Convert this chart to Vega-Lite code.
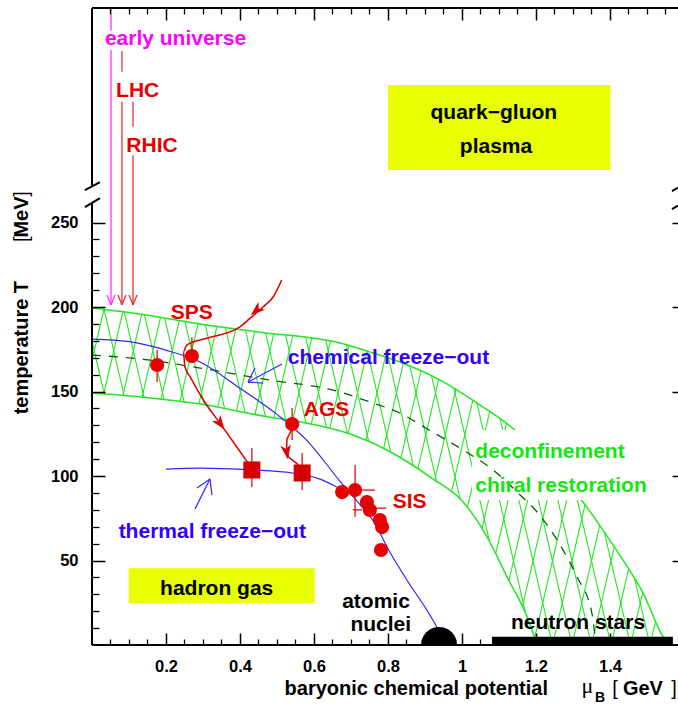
{
"$schema":"https://vega.github.io/schema/vega-lite/v6.json",
"width":586,"height":637,
"autosize":{"type":"none"},
"padding":{"left":92,"top":8,"right":0,"bottom":69},
"background":"white",
"config":{"view":{"stroke":null}},
"datasets":{
"origin":[{"x":0,"y":0}],
"hatch":[{"x":-0.1783,"xa":0.0442,"xb":-0.4008,"lo":0,"hi":210},{"x":-0.1256,"xa":0.0969,"xb":-0.3481,"lo":0,"hi":210},{"x":-0.0729,"xa":0.1496,"xb":-0.2954,"lo":0,"hi":210},{"x":-0.0202,"xa":0.2023,"xb":-0.2427,"lo":0,"hi":210},{"x":0.0325,"xa":0.255,"xb":-0.19,"lo":0,"hi":210},{"x":0.0852,"xa":0.3077,"xb":-0.1373,"lo":0,"hi":210},{"x":0.1379,"xa":0.3604,"xb":-0.0846,"lo":0,"hi":210},{"x":0.1906,"xa":0.4131,"xb":-0.0319,"lo":0,"hi":210},{"x":0.2433,"xa":0.4658,"xb":0.0208,"lo":0,"hi":210},{"x":0.296,"xa":0.5185,"xb":0.0735,"lo":0,"hi":210},{"x":0.3487,"xa":0.5712,"xb":0.1262,"lo":0,"hi":210},{"x":0.4014,"xa":0.6239,"xb":0.1789,"lo":0,"hi":210},{"x":0.4541,"xa":0.6766,"xb":0.2316,"lo":0,"hi":210},{"x":0.5068,"xa":0.7293,"xb":0.2843,"lo":0,"hi":210},{"x":0.5595,"xa":0.782,"xb":0.337,"lo":0,"hi":210},{"x":0.6122,"xa":0.8347,"xb":0.3897,"lo":0,"hi":210},{"x":0.6649,"xa":0.8874,"xb":0.4424,"lo":0,"hi":210},{"x":0.7176,"xa":0.9401,"xb":0.4951,"lo":0,"hi":210},{"x":0.7703,"xa":0.9928,"xb":0.5478,"lo":0,"hi":210},{"x":0.823,"xa":1.0455,"xb":0.6005,"lo":0,"hi":210},{"x":0.8757,"xa":1.0982,"xb":0.6532,"lo":0,"hi":210},{"x":0.9284,"xa":1.1509,"xb":0.7059,"lo":0,"hi":210},{"x":0.9811,"xa":1.2036,"xb":0.7586,"lo":0,"hi":210},{"x":1.0338,"xa":1.2563,"xb":0.8113,"lo":0,"hi":210},{"x":1.0865,"xa":1.309,"xb":0.864,"lo":0,"hi":210},{"x":1.1392,"xa":1.3617,"xb":0.9167,"lo":0,"hi":210},{"x":1.1919,"xa":1.4144,"xb":0.9694,"lo":0,"hi":210},{"x":1.2446,"xa":1.4671,"xb":1.0221,"lo":0,"hi":210},{"x":1.2973,"xa":1.5198,"xb":1.0748,"lo":0,"hi":210},{"x":1.35,"xa":1.5725,"xb":1.1275,"lo":0,"hi":210},{"x":1.4027,"xa":1.6252,"xb":1.1802,"lo":0,"hi":210},{"x":1.4554,"xa":1.6779,"xb":1.2329,"lo":0,"hi":210},{"x":1.5081,"xa":1.7306,"xb":1.2856,"lo":0,"hi":210},{"x":1.5608,"xa":1.7833,"xb":1.3383,"lo":0,"hi":210}],
"upper":[{"x":0,"y":199.4,"top":215},{"x":0.146,"y":195.3,"top":215},{"x":0.292,"y":190,"top":215},{"x":0.45,"y":185.2,"top":215},{"x":0.67,"y":178.7,"top":215},{"x":0.75,"y":173.5,"top":215},{"x":0.832,"y":167.5,"top":215},{"x":0.941,"y":156.8,"top":215},{"x":1.049,"y":142,"top":215},{"x":1.143,"y":127.2,"top":215},{"x":1.238,"y":105,"top":215},{"x":1.327,"y":84.6,"top":215},{"x":1.381,"y":68,"top":215},{"x":1.481,"y":34.3,"top":215},{"x":1.568,"y":0,"top":215},{"x":1.5838,"y":0,"top":215}],
"lower":[{"x":0,"y":149.1,"bot":0},{"x":0.146,"y":146.5,"bot":0},{"x":0.292,"y":142.6,"bot":0},{"x":0.473,"y":135.1,"bot":0},{"x":0.562,"y":132.1,"bot":0},{"x":0.679,"y":126.2,"bot":0},{"x":0.797,"y":115.4,"bot":0},{"x":0.914,"y":99.4,"bot":0},{"x":1.003,"y":84.6,"bot":0},{"x":1.068,"y":63.9,"bot":0},{"x":1.122,"y":40.2,"bot":0},{"x":1.176,"y":16.6,"bot":0},{"x":1.203,"y":0,"bot":0}],
"dashed":[{"x":0,"y":171.6},{"x":0.157,"y":168.6},{"x":0.292,"y":163.9},{"x":0.481,"y":156.8},{"x":0.651,"y":150.9},{"x":0.759,"y":143.2},{"x":0.832,"y":137.3},{"x":0.905,"y":128},{"x":1.003,"y":115.4},{"x":1.084,"y":103.6},{"x":1.157,"y":88.8},{"x":1.203,"y":78.7},{"x":1.257,"y":62.1},{"x":1.311,"y":40.2},{"x":1.351,"y":18.9},{"x":1.362,"y":0}],
"chem":[{"x":0,"y":181},{"x":0.1,"y":179.5},{"x":0.2,"y":174.5},{"x":0.292,"y":167.5},{"x":0.4,"y":152},{"x":0.5,"y":136.5},{"x":0.58,"y":121.3},{"x":0.67,"y":97},{"x":0.74,"y":79},{"x":0.76,"y":73.5},{"x":0.8,"y":57},{"x":0.851,"y":38.5},{"x":0.905,"y":20.7},{"x":0.952,"y":3}],
"therm":[{"x":0.2,"y":104.1},{"x":0.292,"y":104.7},{"x":0.432,"y":103.6},{"x":0.541,"y":101.8},{"x":0.616,"y":98.2},{"x":0.662,"y":93.5},{"x":0.703,"y":88.8}],
"sps":[{"i":0,"x":0.5126,"y":216},{"i":1,"x":0.49,"y":206.1},{"i":2,"x":0.463,"y":200.2},{"i":3,"x":0.427,"y":193.3},{"i":4,"x":0.4,"y":188.3},{"i":5,"x":0.31,"y":181.5},{"i":6,"x":0.256,"y":177.5},{"i":7,"x":0.247,"y":173.6},{"i":8,"x":0.251,"y":164.7},{"i":9,"x":0.265,"y":158.8},{"i":10,"x":0.301,"y":145},{"i":11,"x":0.346,"y":131.2},{"i":12,"x":0.391,"y":117.3},{"i":13,"x":0.4225,"y":107.5}],
"ags":[{"i":0,"x":0.541,"y":128},{"i":1,"x":0.527,"y":122},{"i":2,"x":0.526,"y":117.3},{"i":3,"x":0.5306,"y":111.4},{"i":4,"x":0.5532,"y":107.5},{"i":5,"x":0.5668,"y":104.5}],
"heads":[{"x":0.445,"y":198.2,"ang":50},{"x":0.346,"y":131.2,"ang":324},{"x":0.526,"y":114.4,"ang":351}],
"circles":[{"x":0.176,"y":165.7},{"x":0.27,"y":171},{"x":0.541,"y":130.8},{"x":0.676,"y":90.5},{"x":0.711,"y":91.7},{"x":0.743,"y":84.6},{"x":0.751,"y":79.9},{"x":0.778,"y":74},{"x":0.784,"y":69.8},{"x":0.781,"y":56.2}],
"squares":[{"x":0.432,"y":103.6},{"x":0.568,"y":101.8}],
"errbars":[{"x":0.176,"y":155.6,"x2":0.176,"y2":174.6},{"x":0.27,"y":166.9,"x2":0.27,"y2":182.2},{"x":0.541,"y":121.3,"x2":0.541,"y2":140.2},{"x":0.432,"y":93.5,"x2":0.432,"y2":116.6},{"x":0.568,"y":91.7,"x2":0.568,"y2":113.6},{"x":0.711,"y":75.7,"x2":0.711,"y2":106.5},{"x":0.727,"y":91.7,"x2":0.765,"y2":91.7},{"x":0.76,"y":81,"x2":0.795,"y2":81},{"x":0.705,"y":80,"x2":0.73,"y2":80}],
"accel":[{"beam":"early universe","x":0.0514,"y":363.5,"x2":0.0514,"y2":377},{"beam":"early universe","x":0.0514,"y":201.2,"x2":0.0514,"y2":352},{"beam":"early universe","x":0.0406,"y":207.1,"x2":0.0514,"y2":201.2},{"beam":"early universe","x":0.0622,"y":207.1,"x2":0.0514,"y2":201.2},{"beam":"LHC","x":0.081,"y":339.2,"x2":0.081,"y2":351.5},{"beam":"LHC","x":0.081,"y":201.2,"x2":0.081,"y2":321.5},{"beam":"LHC","x":0.0702,"y":207.1,"x2":0.081,"y2":201.2},{"beam":"LHC","x":0.0918,"y":207.1,"x2":0.081,"y2":201.2},{"beam":"RHIC","x":0.1108,"y":306.7,"x2":0.1108,"y2":321.5},{"beam":"RHIC","x":0.1108,"y":201.2,"x2":0.1108,"y2":289.9},{"beam":"RHIC","x":0.1,"y":207.1,"x2":0.1108,"y2":201.2},{"beam":"RHIC","x":0.1216,"y":207.1,"x2":0.1108,"y2":201.2}],
"bluearrows":[{"x":0.5135,"y":166.3,"x2":0.4216,"y2":155.6},{"x":0.4216,"y":155.6,"x2":0.4405,"y2":163.9},{"x":0.4216,"y":155.6,"x2":0.4622,"y2":155},{"x":0.2784,"y":80.5,"x2":0.3189,"y2":98.2},{"x":0.3189,"y":98.2,"x2":0.2838,"y2":92.9},{"x":0.3189,"y":98.2,"x2":0.3243,"y2":88.8}],
"nuclei":[{"x":0.938,"y":0}],
"nstars":[{"x":1.081,"x2":1.57,"y":0,"y2":4.9}],
"boxes":[{"x":0.8,"x2":1.401,"y":281.1,"y2":331.4},{"x":0.099,"x2":0.6016,"y":24.7,"y2":45.4}],
"whitebox":[{"x":1.027,"x2":1.56,"y":85.8,"y2":127.2}],
"texts":[{"g":"cosmology","x":0.2257,"y":355,"t":"early universe"},{"g":"collider","x":0.1235,"y":324.4,"t":"LHC"},{"g":"collider","x":0.1622,"y":291.9,"t":"RHIC"},{"g":"collider","x":0.2695,"y":192.7,"t":"SPS"},{"g":"collider","x":0.6338,"y":135.5,"t":"AGS"},{"g":"collider","x":0.8584,"y":80.9,"t":"SIS"},{"g":"freeze-out","x":0.8014,"y":166.3,"t":"chemical freeze−out"},{"g":"freeze-out","x":0.3251,"y":63.1,"t":"thermal freeze−out"},{"g":"transition","x":1.2378,"y":110.5,"t":"deconfinement"},{"g":"transition","x":1.2676,"y":90.7,"t":"chiral restoration"},{"g":"phase","x":1.086,"y":311.1,"t":"quark−gluon"},{"g":"phase","x":1.0919,"y":291.3,"t":"plasma"},{"g":"phase","x":0.337,"y":29.6,"t":"hadron gas"},{"g":"phase","x":0.7676,"y":22.1,"t":"atomic"},{"g":"phase","x":0.7805,"y":8.3,"t":"nuclei"},{"g":"phase","x":1.3135,"y":9.3,"t":"neutron stars"}],
"xtitleBold":[{"x":0.8765,"y":-29.6,"t":"baryonic chemical potential"},{"x":1.489,"y":-29.6,"t":"GeV"}],
"xtitleNormal":[{"x":1.4135,"y":-29.6,"t":"["},{"x":1.573,"y":-29.6,"t":"]"}],
"xtitleMu":[{"x":1.339,"y":-28.4,"t":"μ"}],
"xtitleSub":[{"x":1.373,"y":-33.7,"t":"B"}],
"ytitleBold":[{"x":-0.173,"y":176,"t":"temperature T"},{"x":-0.173,"y":253.3,"t":"MeV"}],
"ytitleNormal":[{"x":-0.173,"y":240.2,"t":"["},{"x":-0.173,"y":266.9,"t":"]"}],
"frame":[{"x":0,"y":0,"x2":1.5838,"y2":0},{"x":0,"y":377,"x2":1.5838,"y2":377},{"x":0,"y":0,"x2":0,"y2":262.1},{"x":0,"y":271.6,"x2":0,"y2":377},{"x":-0.019,"y":259.2,"x2":0.0216,"y2":264.5},{"x":-0.019,"y":269.2,"x2":0.0216,"y2":274},{"x":1.5676,"y":268.6,"x2":1.5838,"y2":270.7},{"x":1.5676,"y":258,"x2":1.5838,"y2":260}]
},
"encoding":{
"x":{"field":"x","type":"quantitative","scale":{"domain":[0,1.5838],"nice":false,"zero":false},"axis":null},
"y":{"field":"y","type":"quantitative","scale":{"domain":[0,377],"nice":false,"zero":false},"axis":null}
},
"layer":[
{"data":{"name":"origin"},"mark":{"type":"point","opacity":0},"encoding":{
"x":{"field":"x","type":"quantitative","scale":{"domain":[0,1.5838],"nice":false,"zero":false},"axis":{"orient":"bottom","values":[0.2,0.4,0.6,0.8,1,1.2,1.4],"format":"~g","title":null,"domain":false,"grid":false,"tickSize":-12,"tickWidth":1.5,"tickColor":"black","labelPadding":25,"labelFont":"Liberation Sans","labelFontWeight":"bold","labelFontSize":16.5,"labelColor":"black","labelFlush":false,"labelOverlap":false,"labelBaseline":"top","zindex":1}},
"y":{"field":"y","type":"quantitative","scale":{"domain":[0,377],"nice":false,"zero":false},"axis":{"orient":"left","values":[50,100,150,200,250],"title":null,"domain":false,"grid":false,"tickSize":-13,"tickWidth":1.5,"tickColor":"black","labelPadding":27,"labelFont":"Liberation Sans","labelFontWeight":"bold","labelFontSize":16.5,"labelColor":"black","labelOverlap":false,"zindex":1}}}},
{"data":{"name":"origin"},"mark":{"type":"point","opacity":0},"encoding":{
"x":{"field":"x","type":"quantitative","axis":{"orient":"bottom","values":[0.05,0.1,0.15,0.25,0.3,0.35,0.45,0.5,0.55,0.65,0.7,0.75,0.85,0.9,0.95,1.05,1.1,1.15,1.25,1.3,1.35,1.45,1.5,1.55],"labels":false,"title":null,"domain":false,"grid":false,"tickSize":-6,"tickWidth":1.3,"tickColor":"black","zindex":1}},
"y":{"field":"y","type":"quantitative","axis":{"orient":"left","values":[10,20,30,40,60,70,80,90,110,120,130,140,160,170,180,190,210,220,230,240],"labels":false,"title":null,"domain":false,"grid":false,"tickSize":-7,"tickWidth":1.3,"tickColor":"black","zindex":1}}}},
{"data":{"name":"origin"},"mark":{"type":"point","opacity":0},"encoding":{
"x":{"field":"x","type":"quantitative","axis":{"orient":"top","values":[0.2,0.4,0.6,0.8,1,1.2,1.4],"labels":false,"title":null,"domain":false,"grid":false,"tickSize":-12,"tickWidth":1.5,"tickColor":"black","zindex":1}},
"y":{"field":"y","type":"quantitative","axis":{"orient":"right","values":[50,100,150,200,250],"labels":false,"title":null,"domain":false,"grid":false,"tickSize":-6,"tickWidth":1.5,"tickColor":"black","zindex":1}}}},
{"data":{"name":"origin"},"mark":{"type":"point","opacity":0},"encoding":{
"x":{"field":"x","type":"quantitative","axis":{"orient":"top","values":[0.05,0.1,0.15,0.25,0.3,0.35,0.45,0.5,0.55,0.65,0.7,0.75,0.85,0.9,0.95,1.05,1.1,1.15,1.25,1.3,1.35,1.45,1.5,1.55],"labels":false,"title":null,"domain":false,"grid":false,"tickSize":-6,"tickWidth":1.3,"tickColor":"black","zindex":1}}}},
{"data":{"name":"hatch"},"mark":{"type":"rule","clip":true,"color":"#22e622","strokeWidth":1.1},"encoding":{"y":{"field":"lo","type":"quantitative"},"x2":{"field":"xa"},"y2":{"field":"hi"}}},
{"data":{"name":"hatch"},"mark":{"type":"rule","clip":true,"color":"#22e622","strokeWidth":1.1},"encoding":{"y":{"field":"lo","type":"quantitative"},"x2":{"field":"xb"},"y2":{"field":"hi"}}},
{"data":{"name":"upper"},"mark":{"type":"area","color":"white","opacity":1,"interpolate":"monotone","clip":true},"encoding":{"y2":{"field":"top"}}},
{"data":{"name":"lower"},"mark":{"type":"area","color":"white","opacity":1,"interpolate":"monotone","clip":true},"encoding":{"y2":{"field":"bot"}}},
{"data":{"name":"upper"},"mark":{"type":"line","color":"#22e622","strokeWidth":1.5,"interpolate":"monotone","clip":true},"encoding":{}},
{"data":{"name":"lower"},"mark":{"type":"line","color":"#22e622","strokeWidth":1.5,"interpolate":"monotone","clip":true},"encoding":{}},
{"data":{"name":"whitebox"},"mark":{"type":"rect","color":"white"},"encoding":{"x2":{"field":"x2"},"y2":{"field":"y2"}}},
{"data":{"name":"dashed"},"mark":{"type":"line","color":"#0b5e0b","strokeWidth":1.3,"strokeDash":[9,8],"interpolate":"monotone"},"encoding":{}},
{"data":{"name":"chem"},"mark":{"type":"line","color":"#3322ff","strokeWidth":1.2,"interpolate":"monotone"},"encoding":{}},
{"data":{"name":"therm"},"mark":{"type":"line","color":"#3322ff","strokeWidth":1.2,"interpolate":"monotone"},"encoding":{}},
{"data":{"name":"accel"},"mark":{"type":"rule","strokeWidth":1.3},"encoding":{"x2":{"field":"x2"},"y2":{"field":"y2"},"color":{"field":"beam","type":"nominal","scale":{"domain":["early universe","LHC","RHIC"],"range":["#ff33ff","#ee3030","#ee3030"]},"legend":null}}},
{"data":{"name":"bluearrows"},"mark":{"type":"rule","color":"#3322ff","strokeWidth":1.2},"encoding":{"x2":{"field":"x2"},"y2":{"field":"y2"}}},
{"data":{"name":"sps"},"mark":{"type":"line","color":"#dd0000","strokeWidth":1.5,"interpolate":"monotone"},"encoding":{"order":{"field":"i","type":"quantitative"}}},
{"data":{"name":"ags"},"mark":{"type":"line","color":"#dd0000","strokeWidth":1.5},"encoding":{"order":{"field":"i","type":"quantitative"}}},
{"data":{"name":"errbars"},"mark":{"type":"rule","color":"#e01010","strokeWidth":1.3},"encoding":{"x2":{"field":"x2"},"y2":{"field":"y2"}}},
{"data":{"name":"circles"},"mark":{"type":"point","shape":"circle","filled":true,"opacity":1,"color":"#e60000","size":200},"encoding":{}},
{"data":{"name":"squares"},"mark":{"type":"point","shape":"square","filled":true,"opacity":1,"color":"#d40000","size":290},"encoding":{}},
{"data":{"name":"heads"},"mark":{"type":"point","shape":"M0,1 L-0.7,-0.9 L0,-0.35 L0.7,-0.9 Z","filled":true,"opacity":1,"color":"#dd0000","size":230},"encoding":{"angle":{"field":"ang","type":"quantitative","scale":null}}},
{"data":{"name":"nuclei"},"mark":{"type":"point","shape":"M-1,0 L-0.97,-0.26 L-0.87,-0.5 L-0.71,-0.71 L-0.5,-0.87 L-0.26,-0.97 L0,-1 L0.26,-0.97 L0.5,-0.87 L0.71,-0.71 L0.87,-0.5 L0.97,-0.26 L1,0 Z","filled":true,"opacity":1,"color":"black","size":1296},"encoding":{}},
{"data":{"name":"nstars"},"mark":{"type":"rect","color":"black"},"encoding":{"x2":{"field":"x2"},"y2":{"field":"y2"}}},
{"data":{"name":"boxes"},"mark":{"type":"rect","color":"#e8ff00"},"encoding":{"x2":{"field":"x2"},"y2":{"field":"y2"}}},
{"data":{"name":"texts"},"mark":{"type":"text","font":"Liberation Sans","fontWeight":"bold","fontSize":21,"align":"center","baseline":"alphabetic"},"encoding":{"text":{"field":"t"},"color":{"field":"g","type":"nominal","scale":{"domain":["cosmology","collider","freeze-out","transition","phase"],"range":["#ff00ff","#e60000","#3300ff","#14e614","#000000"]},"legend":null}}},
{"data":{"name":"xtitleBold"},"mark":{"type":"text","font":"Liberation Sans","fontWeight":"bold","fontSize":20,"align":"center","baseline":"alphabetic","color":"black"},"encoding":{"text":{"field":"t"}}},
{"data":{"name":"xtitleNormal"},"mark":{"type":"text","font":"Liberation Sans","fontSize":20,"align":"center","baseline":"alphabetic","color":"black"},"encoding":{"text":{"field":"t"}}},
{"data":{"name":"xtitleMu"},"mark":{"type":"text","font":"Liberation Serif","fontSize":22,"align":"center","baseline":"alphabetic","color":"black"},"encoding":{"text":{"field":"t"}}},
{"data":{"name":"xtitleSub"},"mark":{"type":"text","font":"Liberation Sans","fontWeight":"bold","fontSize":14,"align":"center","baseline":"alphabetic","color":"black"},"encoding":{"text":{"field":"t"}}},
{"data":{"name":"ytitleBold"},"mark":{"type":"text","font":"Liberation Sans","fontWeight":"bold","fontSize":20,"align":"center","baseline":"alphabetic","angle":270,"color":"black"},"encoding":{"text":{"field":"t"}}},
{"data":{"name":"ytitleNormal"},"mark":{"type":"text","font":"Liberation Sans","fontSize":20,"align":"center","baseline":"alphabetic","angle":270,"color":"black"},"encoding":{"text":{"field":"t"}}},
{"data":{"name":"frame"},"mark":{"type":"rule","color":"black","strokeWidth":2},"encoding":{"x2":{"field":"x2"},"y2":{"field":"y2"}}}
],
"resolve":{"axis":{"x":"independent","y":"independent"},"scale":{"color":"independent"}}
}
